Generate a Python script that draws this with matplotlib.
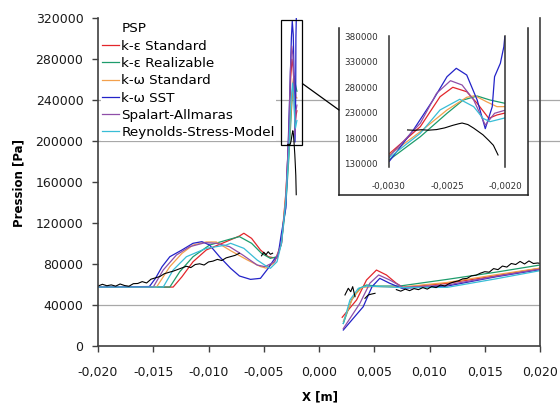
import numpy as np
import matplotlib.pyplot as plt
from matplotlib.lines import Line2D
from matplotlib.patches import Rectangle, ConnectionPatch
from matplotlib.ticker import FuncFormatter

nan = np.nan

# PSP measurement (nan = no signal)
x_psp = [-0.0200, -0.0196, -0.0192, -0.0188, -0.0184, -0.0180, -0.0176, -0.0172, -0.0168,
         -0.0164, -0.0160, -0.0156, -0.0152, -0.0148, -0.0144, -0.0140, -0.0136, -0.0132,
         -0.0128, -0.0124, -0.0120, -0.0116, -0.0112, -0.0108, -0.0104, -0.0100, -0.0096,
         -0.0092, -0.0088, -0.0084, -0.0080, -0.0076, -0.0072, nan,
         -0.0052, -0.0050, -0.0048, -0.0046, -0.0044, -0.0042, nan,
         -0.00284, -0.00278, -0.00272, -0.00266, -0.00259, -0.00252, -0.00245, -0.00240,
         -0.00237, -0.00232, -0.00227, -0.00219, -0.00214, -0.00210, -0.00206, nan,
         0.00235, 0.00265, 0.00287, 0.00305, 0.00326, nan,
         0.00416, 0.00446, 0.00477, 0.00507, nan,
         0.0070, 0.0074, 0.0078, 0.0082, 0.0086, 0.0090, 0.0094, 0.0098, 0.0102, 0.0106,
         0.0110, 0.0114, 0.0118, 0.0122, 0.0126, 0.0130, 0.0134, 0.0138, 0.0142, 0.0146,
         0.0150, 0.0154, 0.0158, 0.0162, 0.0166, 0.0170, 0.0174, 0.0178, 0.0182, 0.0186,
         0.0190, 0.0194, 0.0198, 0.0200]
p_psp = [58500, 60200, 58800, 59600, 58400, 60500, 59000, 58300, 60800,
         61000, 62800, 61500, 65200, 66500, 67800, 70500, 71800, 73000,
         74600, 76200, 77800, 76500, 79500, 80200, 79000, 82000, 82800,
         84500, 83400, 86000, 87200, 88400, 90500, nan,
         88000, 91500, 89000, 92000, 89500, 90500, nan,
         196500, 195800, 196900, 196000, 197200, 200500, 205500, 208500,
         210000, 207000, 200000, 187000, 176000, 166500, 147600, nan,
         49800, 56300, 53000, 57900, 48100, nan,
         46500, 49800, 50700, 51400, nan,
         55000, 53500, 55500, 54000, 56000, 55000, 57000, 55500, 58000, 57000,
         59500, 58500, 61000, 62500, 63500, 65500, 66000, 68500, 69000, 71000,
         72500, 72000, 75500, 74500, 78000, 77000, 80500, 79500, 82500, 80000,
         83000, 80500, 81000, 80500]

# k-epsilon Standard
x_kes = [-0.0200, -0.0132, -0.0124, -0.0114, -0.0102, -0.0084, -0.0072, -0.0068, -0.0061,
         -0.0053, -0.0046, -0.0038, -0.0034, -0.0030, -0.00273, -0.00256, -0.00245,
         -0.00233, -0.00224, -0.00214, -0.00207, -0.0020, nan,
         0.0021, 0.0034, 0.0043, 0.0052, 0.0061, 0.0070, 0.0076, 0.0116, 0.0160, 0.0200]
p_kes = [57500, 57500, 67600, 82200, 93700, 101800, 107300, 110000, 105000,
         93700, 87100, 85500, 100000, 149500, 202900, 261400, 279800,
         271200, 248500, 219200, 225700, 229500, nan,
         28000, 44900, 64400, 74100, 69300, 61200, 57200, 61200, 68500, 75800]

# k-epsilon Realizable
x_ker = [-0.0200, -0.0135, -0.0126, -0.0114, -0.0099, -0.0081, -0.0072, -0.0061, -0.0052,
         -0.0044, -0.0038, -0.0034, -0.0030, -0.00273, -0.00250, -0.00236, -0.00224,
         -0.00213, -0.0020, nan,
         0.0022, 0.00295, 0.0037, 0.0043, 0.0052, 0.0073, 0.0116, 0.0160, 0.0200]
p_ker = [57500, 57500, 72500, 87100, 98500, 104100, 106700, 100200, 90400,
         85500, 87100, 100000, 137800, 183300, 229000, 255000, 262800,
         255000, 248500, nan,
         22000, 44900, 56300, 59500, 58500, 58500, 65000, 72000, 79000]

# k-omega Standard
x_kws = [-0.0200, -0.0147, -0.0135, -0.0124, -0.0114, -0.0102, -0.0093, -0.0080, -0.0065,
         -0.0053, -0.0048, -0.0041, -0.0034, -0.0030, -0.00273, -0.00250, -0.00233,
         -0.00226, -0.00216, -0.00207, -0.0020, nan,
         0.0022, 0.0031, 0.0039, 0.0050, 0.0075, 0.0116, 0.0160, 0.0200]
p_kws = [57500, 57500, 77400, 90400, 98500, 101500, 101500, 93000, 84000,
         77500, 76000, 80700, 100000, 147600, 193100, 235500, 260300,
         263400, 251700, 242000, 242000, nan,
         24000, 48100, 57200, 58000, 57500, 62000, 69500, 76000]

# k-omega SST
x_sst = [-0.0200, -0.01535, -0.0148, -0.0142, -0.0135, -0.0124, -0.0114, -0.0106, -0.0099,
         -0.0090, -0.0080, -0.0072, -0.0062, -0.0053, -0.0046, -0.0041, -0.0037, -0.0034,
         -0.0030, -0.00279, -0.00262, -0.00250, -0.00242, -0.00233, -0.00224, -0.00217,
         -0.00211, -0.00209, -0.00204, -0.00201, -0.0020, nan,
         0.0022, 0.0040, 0.0048, 0.0055, 0.0064, 0.0075, 0.0116, 0.0160, 0.0200]
p_sst = [57500, 58000, 66000, 77400, 87100, 93700, 100200, 101800, 98500,
         87100, 75800, 68300, 65000, 66000, 75800, 83900, 88800, 110000,
         134500, 196400, 255000, 300500, 316900, 303800, 255000, 199000,
         241900, 300500, 326700, 359100, 382000, nan,
         15600, 38300, 57900, 66000, 61200, 56300, 58500, 67500, 74500]

# Spalart-Allmaras
x_sa = [-0.0200, -0.0150, -0.0141, -0.0129, -0.0117, -0.0103, -0.0093, -0.0081, -0.0069,
        -0.0056, -0.0049, -0.0040, -0.0034, -0.0030, -0.00273, -0.00259, -0.00247,
        -0.00237, -0.00227, -0.00217, -0.00209, -0.0020, nan,
        0.0022, 0.0037, 0.0046, 0.0054, 0.0064, 0.0076, 0.0116, 0.0160, 0.0200]
p_sa = [57500, 57500, 74100, 88800, 96900, 100800, 100200, 96900, 88800,
        79000, 77400, 82200, 100000, 144300, 209500, 268000, 292700,
        284300, 255000, 206000, 229000, 235000, nan,
        17000, 41600, 61200, 69300, 64400, 57200, 59500, 68000, 75000]

# Reynolds-Stress-Model
x_rsm = [-0.0200, -0.0141, -0.0132, -0.0120, -0.0102, -0.0084, -0.0080, -0.0068, -0.0056,
         -0.0047, -0.0044, -0.0038, -0.0034, -0.0030, -0.00273, -0.00256, -0.00239,
         -0.00227, -0.00219, -0.00213, -0.0020, nan,
         0.0022, 0.0028, 0.00356, 0.0043, 0.0075, 0.0116, 0.0160, 0.0200]
p_rsm = [57500, 57500, 74100, 87100, 95300, 98500, 100200, 95300, 83900,
         77400, 75800, 82200, 100000, 142000, 190000, 235500, 256400,
         242000, 219200, 212600, 220000, nan,
         22000, 44900, 56300, 58500, 57000, 57200, 65500, 73500]

models = [
    ("k-\u03b5 Standard", x_kes, p_kes, "#e3262b"),
    ("k-\u03b5 Realizable", x_ker, p_ker, "#1d9c6c"),
    ("k-\u03c9 Standard", x_kws, p_kws, "#f3a04c"),
    ("k-\u03c9 SST", x_sst, p_sst, "#2323c8"),
    ("Spalart-Allmaras", x_sa, p_sa, "#8f4fa8"),
    ("Reynolds-Stress-Model", x_rsm, p_rsm, "#38bdd6"),
]

y_ticks = np.arange(0, 320001, 40000)
x_ticks = np.arange(-0.020, 0.0201, 0.005)
inset_y_ticks = np.arange(130000, 380001, 50000)
inset_x_ticks = [-0.0030, -0.0025, -0.0020]

W, H = 560, 405
plt.rcParams['font.family'] = 'DejaVu Sans'


def box(l, t, r, b):
    return [l / W, 1 - b / H, (r - l) / W, (b - t) / H]


def comma(fmt):
    def f(v, pos):
        s = fmt.format(v).replace('.', ',')
        return s[1:] if s.startswith('-') and float(s[1:].replace(',', '.')) == 0 else s
    return FuncFormatter(f)


fig = plt.figure(figsize=(W / 100, H / 100), dpi=100)
ax = fig.add_axes(box(98, 18, 540, 346))

spine_col = '#404040'
grid_col = '#a8a8a8'
ax.axhline(40000, color=grid_col, lw=0.9, zorder=0.5)
for gy in (200000, 240000):
    ax.axhline(gy, xmin=0, xmax=(560 - 98) / 442, color=grid_col, lw=0.9,
               zorder=0.5, clip_on=False)

model_lines = []
for name, xs, ps, col in models:
    line, = ax.plot(xs, ps, color=col, lw=0.9, label=name)
    model_lines.append(line)
ax.plot(x_psp, p_psp, color='black', lw=0.8)

ax.set_xlim(-0.020, 0.020)
ax.set_ylim(0, 320000)
ax.set_xticks(x_ticks)
ax.set_yticks(y_ticks)
ax.xaxis.set_major_formatter(comma('{:.3f}'))
ax.yaxis.set_major_formatter(FuncFormatter(lambda v, p: f'{int(v)}'))
ax.tick_params(axis='both', labelsize=9, color=spine_col, width=1.0, length=4.5,
               labelcolor='#1a1a1a')
ax.tick_params(axis='x', pad=10)
ax.tick_params(axis='y', pad=6)
ax.spines['top'].set_visible(False)
for s in ('left', 'bottom', 'right'):
    ax.spines[s].set_color(spine_col)
    ax.spines[s].set_linewidth(1.2)

ax.set_xlabel('X [m]', fontsize=8.5, fontweight='bold')
ax.xaxis.set_label_coords((320 - 98) / 442, (346 - 390) / 328)
ax.set_ylabel('Pression [Pa]', fontsize=8.5, fontweight='bold')
ax.yaxis.set_label_coords((25 - 98) / 442, (346 - 183) / 328)

handles = [Line2D([], [], color='none')] + model_lines
labels = ['PSP'] + [m[0] for m in models]
ax.legend(handles, labels, loc='upper left', bbox_to_anchor=(101 / W, 1 - 21 / H),
          bbox_transform=fig.transFigure, frameon=True, fancybox=False,
          edgecolor='none', facecolor='white', framealpha=1, fontsize=9.7,
          handlelength=1.25, handletextpad=0.15, labelspacing=0.32,
          borderpad=0.1, borderaxespad=0)

# zoom window around the step and its connector to the detail view
ax.add_patch(Rectangle((-0.0034, 196000), 0.0019, 122000, fill=False,
                       ec='black', lw=0.9, zorder=5, clip_on=False))
con = ConnectionPatch(xyA=(-0.0015, 256000), coordsA=ax.transData,
                      xyB=(339 / W, 1 - 110 / H), coordsB=fig.transFigure,
                      color='black', lw=0.9)
fig.add_artist(con)

# detail view
frame = fig.add_axes(box(339, 28, 528, 195))
frame.set_xticks([])
frame.set_yticks([])
frame.spines['top'].set_visible(False)
for s in ('left', 'right', 'bottom'):
    frame.spines[s].set_color('#202020')
    frame.spines[s].set_linewidth(1.1)

ins = fig.add_axes(box(389, 36, 505, 167))
ins.patch.set_alpha(0)
for name, xs, ps, col in models:
    ins.plot(xs, ps, color=col, lw=0.9)
ins.plot(x_psp, p_psp, color='black', lw=0.8)
ins.set_xlim(-0.0030, -0.0020)
ins.set_ylim(124100, 380000)
ins.set_xticks(inset_x_ticks)
ins.set_yticks(inset_y_ticks)
ins.xaxis.set_major_formatter(comma('{:.4f}'))
ins.yaxis.set_major_formatter(FuncFormatter(lambda v, p: f'{int(v)}'))
ins.tick_params(axis='both', length=0, labelsize=6.3, labelcolor='#303030')
ins.tick_params(axis='x', pad=11)
ins.tick_params(axis='y', pad=8)
for s in ('top', 'bottom'):
    ins.spines[s].set_visible(False)
for s in ('left', 'right'):
    ins.spines[s].set_color('#303030')
    ins.spines[s].set_linewidth(1.1)

fig.savefig('out.png', dpi=100)
